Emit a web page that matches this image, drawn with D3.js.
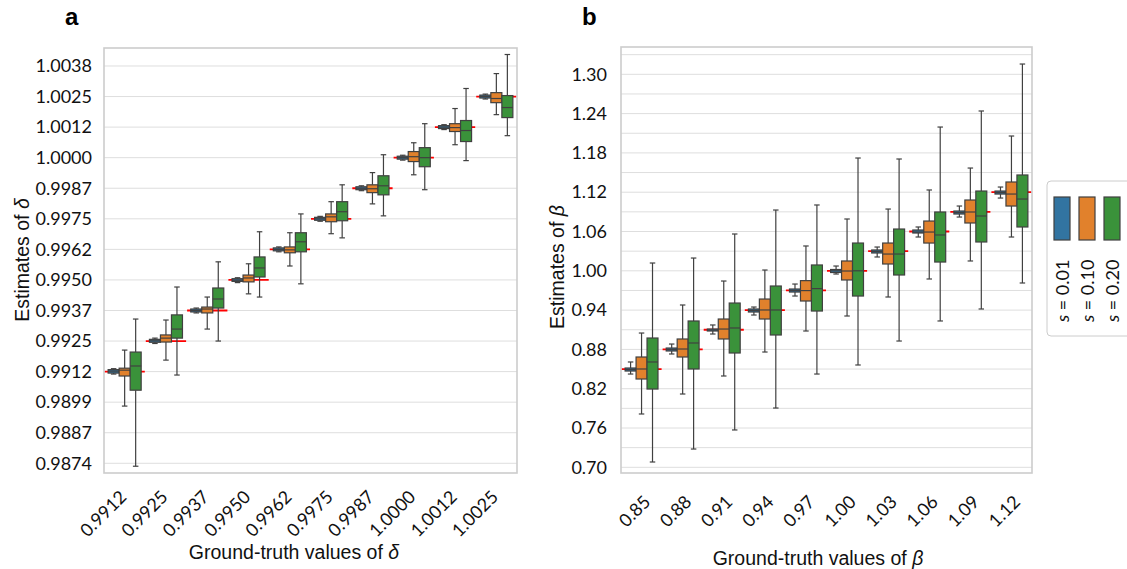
<!DOCTYPE html>
<html>
<head>
<meta charset="utf-8">
<script src="https://cdn.jsdelivr.net/npm/d3@7"></script>
<style>
  html, body { margin: 0; padding: 0; background: #fff; }
  svg { display: block; }
  .tick-font { font-family: Lato, "Open Sans", sans-serif; }
  .lab-font { font-family: "Liberation Sans", Arial, sans-serif; }
</style>
</head>
<body>
<svg id="chart" width="1127" height="569"></svg>
<script>
// ---------------- DATA ----------------
// Panel a (delta)
const catsA = ["0.9912","0.9925","0.9937","0.9950","0.9962","0.9975","0.9987","1.0000","1.0012","1.0025"];
const truthA = [0.99125,0.9925,0.99375,0.995,0.99625,0.9975,0.99875,1.0,1.00125,1.0025];
const yTickValsA = [0.9875,0.98875,0.99,0.99125,0.9925,0.99375,0.995,0.99625,0.9975,0.99875,1.0,1.00125,1.0025,1.00375];
const yTickLabelsA = ["0.9874","0.9887","0.9899","0.9912","0.9925","0.9937","0.9950","0.9962","0.9975","0.9987","1.0000","1.0012","1.0025","1.0038"];
// [lower whisker, q1, median, q3, upper whisker]
const aS001 = [
  [0.99115,0.99119,0.99127,0.99133,0.99137],
  [0.99240,0.99245,0.99251,0.99257,0.99262],
  [0.99365,0.99369,0.99375,0.99381,0.99385],
  [0.99489,0.99494,0.99499,0.99505,0.99509],
  [0.99615,0.99619,0.99625,0.99631,0.99635],
  [0.99740,0.99744,0.99750,0.99756,0.99760],
  [0.99865,0.99869,0.99875,0.99881,0.99885],
  [0.99990,0.99994,1.00000,1.00006,1.00010],
  [1.00115,1.00119,1.00125,1.00131,1.00135],
  [1.00240,1.00244,1.00250,1.00256,1.00260]
];
const aS010 = [
  [0.98984,0.99107,0.99131,0.99139,0.99213],
  [0.99172,0.99246,0.99262,0.99275,0.99336],
  [0.99299,0.99365,0.99381,0.99389,0.99430],
  [0.99443,0.99492,0.99508,0.99520,0.99566],
  [0.99557,0.99611,0.99623,0.99635,0.99693],
  [0.99689,0.99738,0.99758,0.99770,0.99820],
  [0.99811,0.99857,0.99873,0.99889,0.99939],
  [0.99930,0.99984,1.00004,1.00025,1.00061],
  [1.00053,1.00107,1.00123,1.00139,1.00201],
  [1.00176,1.00225,1.00242,1.00266,1.00344]
];
const aS020 = [
  [0.98738,0.99049,0.99148,0.99205,0.99340],
  [0.99111,0.99262,0.99299,0.99357,0.99471],
  [0.99250,0.99385,0.99422,0.99467,0.99574],
  [0.99430,0.99512,0.99549,0.99594,0.99697],
  [0.99484,0.99615,0.99656,0.99693,0.99770],
  [0.99672,0.99742,0.99779,0.99820,0.99889],
  [0.99762,0.99848,0.99885,0.99926,1.00012],
  [0.99869,0.99963,1.00000,1.00041,1.00139],
  [0.99988,1.00066,1.00111,1.00152,1.00283],
  [1.00090,1.00164,1.00205,1.00254,1.00422]
];

// Panel b (beta)
const catsB = ["0.85","0.88","0.91","0.94","0.97","1.00","1.03","1.06","1.09","1.12"];
const truthB = [0.85,0.88,0.91,0.94,0.97,1.00,1.03,1.06,1.09,1.12];
const yTickValsB = [0.70,0.76,0.82,0.88,0.94,1.00,1.06,1.12,1.18,1.24,1.30];
const yTickLabelsB = ["0.70","0.76","0.82","0.88","0.94","1.00","1.06","1.12","1.18","1.24","1.30"];
const yGridB = [0.70,0.73,0.76,0.79,0.82,0.85,0.88,0.91,0.94,0.97,1.00,1.03,1.06,1.09,1.12,1.15,1.18,1.21,1.24,1.27,1.30,1.33];
const bS001 = [
  [0.8424,0.8470,0.8493,0.8516,0.8608],
  [0.8730,0.8776,0.8798,0.8821,0.8882],
  [0.9035,0.9081,0.9096,0.9111,0.9173],
  [0.9325,0.9371,0.9394,0.9417,0.9447],
  [0.9615,0.9676,0.9699,0.9722,0.9798],
  [0.9951,0.9974,1.0000,1.0020,1.0073],
  [1.0211,1.0272,1.0295,1.0318,1.0363],
  [1.0516,1.0577,1.0592,1.0623,1.0669],
  [1.0821,1.0867,1.0890,1.0913,1.0989],
  [1.1111,1.1172,1.1195,1.1218,1.1279]
];
const bS010 = [
  [0.7814,0.8348,0.8501,0.8684,0.9050],
  [0.8119,0.8684,0.8806,0.8959,0.9478],
  [0.8394,0.8959,0.9111,0.9264,0.9844],
  [0.8760,0.9264,0.9402,0.9569,1.0012],
  [0.9081,0.9539,0.9698,0.9850,1.0379],
  [0.9310,0.9860,0.9997,1.0150,1.0791],
  [0.9600,1.0104,1.0256,1.0424,1.0943],
  [0.9875,1.0424,1.0592,1.0760,1.1234],
  [1.0150,1.0730,1.0898,1.1081,1.1569],
  [1.0516,1.0989,1.1172,1.1356,1.2058]
];
const bS020 = [
  [0.7081,0.8195,0.8608,0.8974,1.0119],
  [0.7279,0.8501,0.8898,0.9234,1.0195],
  [0.7570,0.8745,0.9127,0.9508,1.0562],
  [0.7905,0.9020,0.9402,0.9768,1.0928],
  [0.8424,0.9386,0.9728,1.0089,1.1005],
  [0.8562,0.9615,1.0000,1.0424,1.1722],
  [0.8928,0.9936,1.0256,1.0638,1.1707],
  [0.9234,1.0134,1.0547,1.0898,1.2195],
  [0.9417,1.0440,1.0837,1.1218,1.2440],
  [0.9814,1.0669,1.1096,1.1463,1.3157]
];

const hueLabels = ["0.01","0.10","0.20"];
const hueColors = ["#3274a1","#e1812c","#3a923a"];
const edgeColor = "#404040";

// ---------------- DRAW ----------------
const svg = d3.select("#chart");

function panel(cfg) {
  const g = svg.append("g");
  const x = d3.scaleBand().domain(cfg.cats).range([cfg.x0, cfg.x1]).paddingInner(0).paddingOuter(0);
  const y = d3.scaleLinear().domain(cfg.yDomain).range([cfg.y1, cfg.y0]);
  const bw = x.bandwidth();
  const boxW = bw * 0.8 / 3;

  // grid
  g.append("g").selectAll("line").data(cfg.grid).join("line")
    .attr("x1", cfg.x0).attr("x2", cfg.x1)
    .attr("y1", d => y(d)).attr("y2", d => y(d))
    .attr("stroke", "#dedede").attr("stroke-width", 1);

  // y axis (labels only)
  const yAxis = d3.axisLeft(y).tickValues(cfg.yTicks)
    .tickFormat((d, i) => cfg.yLabels[i]).tickSize(0).tickPadding(cfg.yPad);
  const ya = g.append("g").attr("transform", `translate(${cfg.x0},0)`).call(yAxis);
  ya.select(".domain").remove();
  ya.selectAll("text").attr("class", "tick-font").style("font-size", "18px").attr("fill", "#111");

  // truth red lines
  g.append("g").selectAll("line").data(cfg.truth).join("line")
    .attr("x1", (d, i) => x(cfg.cats[i]) + 0.5)
    .attr("x2", (d, i) => x(cfg.cats[i]) + bw - 0.5)
    .attr("y1", d => y(d)).attr("y2", d => y(d))
    .attr("stroke", "#ff0000").attr("stroke-width", 1.8);

  // boxes
  cfg.series.forEach((ser, j) => {
    const sg = g.append("g");
    ser.forEach((s, i) => {
      const cx = x(cfg.cats[i]) + bw * 0.1 + boxW * (j + 0.5);
      const [wl, q1, md, q3, wh] = s;
      const cap = boxW * 0.25;
      sg.append("line").attr("x1", cx).attr("x2", cx).attr("y1", y(wh)).attr("y2", y(q3))
        .attr("stroke", edgeColor).attr("stroke-width", 1.2);
      sg.append("line").attr("x1", cx).attr("x2", cx).attr("y1", y(q1)).attr("y2", y(wl))
        .attr("stroke", edgeColor).attr("stroke-width", 1.2);
      sg.append("line").attr("x1", cx - cap).attr("x2", cx + cap).attr("y1", y(wh)).attr("y2", y(wh))
        .attr("stroke", edgeColor).attr("stroke-width", 1.2);
      sg.append("line").attr("x1", cx - cap).attr("x2", cx + cap).attr("y1", y(wl)).attr("y2", y(wl))
        .attr("stroke", edgeColor).attr("stroke-width", 1.2);
      sg.append("rect").attr("x", cx - boxW / 2).attr("width", boxW)
        .attr("y", y(q3)).attr("height", Math.max(0.5, y(q1) - y(q3)))
        .attr("fill", hueColors[j]).attr("stroke", edgeColor).attr("stroke-width", 1.2);
      sg.append("line").attr("x1", cx - boxW / 2).attr("x2", cx + boxW / 2).attr("y1", y(md)).attr("y2", y(md))
        .attr("stroke", edgeColor).attr("stroke-width", 1.2);
    });
  });

  // frame
  g.append("rect").attr("x", cfg.x0).attr("y", cfg.y0)
    .attr("width", cfg.x1 - cfg.x0).attr("height", cfg.y1 - cfg.y0)
    .attr("fill", "none").attr("stroke", "#cccccc").attr("stroke-width", 1.6);

  // x tick labels rotated
  g.append("g").selectAll("text").data(cfg.cats).join("text")
    .attr("class", "tick-font")
    .attr("transform", d => `translate(${x(d) + bw / 2 + cfg.xLabDx},${cfg.xLabY}) rotate(-45)`)
    .attr("text-anchor", "end").style("font-size", "18px").attr("fill", "#111")
    .text(d => d);

  // axis titles
  const xl = g.append("text").attr("class", "lab-font")
    .attr("x", cfg.xTitleX).attr("y", cfg.xTitleY).attr("text-anchor", "middle")
    .style("font-size", "19.5px").attr("fill", "#111");
  xl.append("tspan").text("Ground-truth values of ");
  xl.append("tspan").style("font-style", "italic").text(cfg.sym);

  const yl = g.append("text").attr("class", "lab-font")
    .attr("transform", `translate(${cfg.yTitleX},${cfg.yTitleY}) rotate(-90)`)
    .attr("text-anchor", "middle").style("font-size", "19.5px").attr("fill", "#111");
  yl.append("tspan").text("Estimates of ");
  yl.append("tspan").style("font-style", "italic").text(cfg.sym);

  // panel letter
  svg.append("text").attr("class", "lab-font").attr("x", cfg.letterX).attr("y", 25)
    .style("font-size", "24px").style("font-weight", "bold").attr("fill", "#000").text(cfg.letter);
}

panel({
  cats: catsA, truth: truthA, series: [aS001, aS010, aS020],
  x0: 104, x1: 517, y0: 48, y1: 473, yDomain: [0.987103, 1.004486],
  yTicks: yTickValsA, yLabels: yTickLabelsA, grid: yTickValsA, yPad: 12,
  xLabDx: 3, xLabY: 498, xTitleX: 294, xTitleY: 559, yTitleX: 29, yTitleY: 260,
  sym: "δ", letter: "a", letterX: 65
});
panel({
  cats: catsB, truth: truthB, series: [bS001, bS010, bS020],
  x0: 621, x1: 1032, y0: 47, y1: 473, yDomain: [0.6913, 1.3417],
  yTicks: yTickValsB, yLabels: yTickLabelsB, grid: yGridB, yPad: 14,
  xLabDx: 10, xLabY: 503, xTitleX: 818, xTitleY: 565, yTitleX: 564, yTitleY: 267,
  sym: "β", letter: "b", letterX: 582
});

// legend
const lg = svg.append("g");
lg.append("rect").attr("x", 1047).attr("y", 181).attr("width", 110).attr("height", 155)
  .attr("rx", 4).attr("fill", "#fff").attr("stroke", "#cccccc").attr("stroke-width", 1);
hueLabels.forEach((lab, j) => {
  const px = 1054 + j * 25;
  lg.append("rect").attr("x", px).attr("y", 197).attr("width", 16).attr("height", 43)
    .attr("fill", hueColors[j]).attr("stroke", edgeColor).attr("stroke-width", 1.2);
  const t = lg.append("text").attr("class", "tick-font")
    .attr("transform", `translate(${px + 15},322) rotate(-90)`)
    .attr("text-anchor", "start").style("font-size", "18px").attr("fill", "#111");
  t.append("tspan").style("font-style", "italic").text("s");
  t.append("tspan").text(" = " + lab);
});
</script>
</body>
</html>
